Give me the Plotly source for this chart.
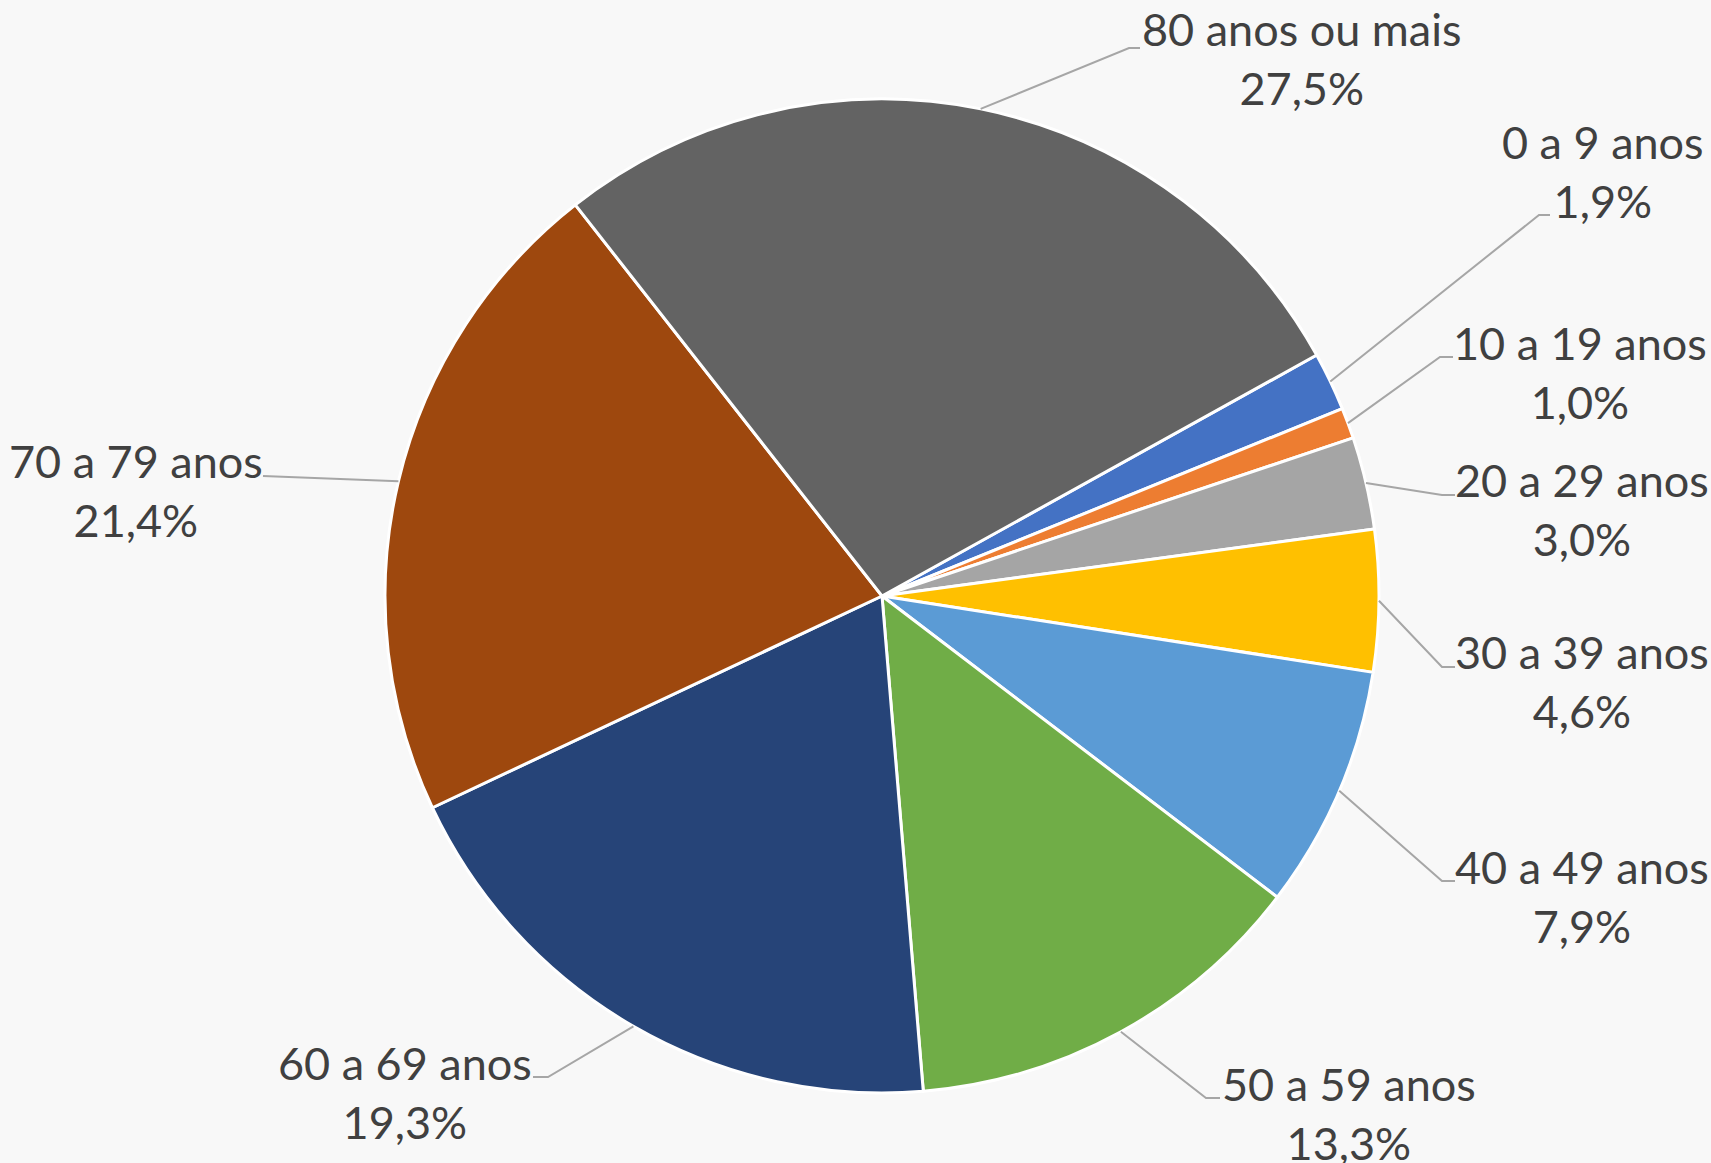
import math
import plotly.graph_objects as go

# ---- data ----
categories = [
    "0 a 9 anos", "10 a 19 anos", "20 a 29 anos", "30 a 39 anos",
    "40 a 49 anos", "50 a 59 anos", "60 a 69 anos", "70 a 79 anos",
    "80 anos ou mais",
]
shares = [1.9, 1.0, 3.0, 4.6, 7.9, 13.3, 19.3, 21.4, 27.5]
colors = [
    "#4472C4", "#ED7D31", "#A5A5A5", "#FFC000", "#5B9BD5",
    "#70AD47", "#264478", "#9E480E", "#636363",
]

# ---- layout constants (pixels) ----
W, H = 1711, 1163
CX, CY, R = 882, 596, 497
ROTATION = 61
FONT = "Lato, 'Open Sans', sans-serif"
TEXT_COLOR = "#404040"
LEADER_COLOR = "#A6A6A6"
BG = "#F8F8F8"

# label block centre and leader-line elbow points for each category
label_layout = [
    dict(pos=(1603, 171), path=[(1539, 215), (1550, 215)]),
    dict(pos=(1580, 373), path=[(1440, 357), (1453, 357)]),
    dict(pos=(1582, 510), path=[(1442, 495), (1455, 495)]),
    dict(pos=(1582, 681), path=[(1442, 667), (1455, 667)]),
    dict(pos=(1582, 896), path=[(1442, 881), (1455, 881)]),
    dict(pos=(1349, 1113), path=[(1206, 1098), (1220, 1098)]),
    dict(pos=(405, 1092), path=[(548, 1077), (533, 1077)]),
    dict(pos=(136, 490), path=[(263, 476)]),
    dict(pos=(1302, 59), path=[(1129, 48), (1140, 48)]),
]


def px(x):
    return x / W


def py(y):
    return 1 - y / H


fig = go.Figure(
    go.Pie(
        labels=categories,
        values=shares,
        sort=False,
        direction="clockwise",
        rotation=ROTATION,
        textinfo="none",
        hoverinfo="label+percent",
        marker=dict(colors=colors, line=dict(color="white", width=3)),
        domain=dict(x=[px(CX - R), px(CX + R)], y=[py(CY + R), py(CY - R)]),
        showlegend=False,
    )
)

total = sum(shares)
cum = 0.0
annotations = []
shapes = []
for cat, v, lay in zip(categories, shares, label_layout):
    mid = cum + v / 2
    cum += v
    ang = math.radians(ROTATION + 360 * mid / total)
    sx = CX + R * math.sin(ang)
    sy = CY - R * math.cos(ang)
    pts = [(sx, sy)] + lay["path"]
    d = "M " + " L ".join(f"{px(x):.5f},{py(y):.5f}" for x, y in pts)
    shapes.append(dict(type="path", path=d, xref="paper", yref="paper",
                       line=dict(color=LEADER_COLOR, width=2)))
    pct = f"{v:.1f}".replace(".", ",") + "%"
    annotations.append(dict(
        x=px(lay["pos"][0]), y=py(lay["pos"][1]), xref="paper", yref="paper",
        text=f"{cat}<br>{pct}", showarrow=False, align="center",
        xanchor="center", yanchor="middle",
        font=dict(family=FONT, size=45, color=TEXT_COLOR),
    ))

fig.update_layout(
    width=W, height=H,
    margin=dict(l=0, r=0, t=0, b=0),
    paper_bgcolor=BG,
    plot_bgcolor=BG,
    annotations=annotations,
    shapes=shapes,
)

fig.write_html(
    "out.html",
    config={"displayModeBar": False},
    post_script=(
        "document.body.style.margin='0';"
        "document.body.style.overflow='hidden';"
        f"document.body.style.background='{BG}';"
    ),
)
